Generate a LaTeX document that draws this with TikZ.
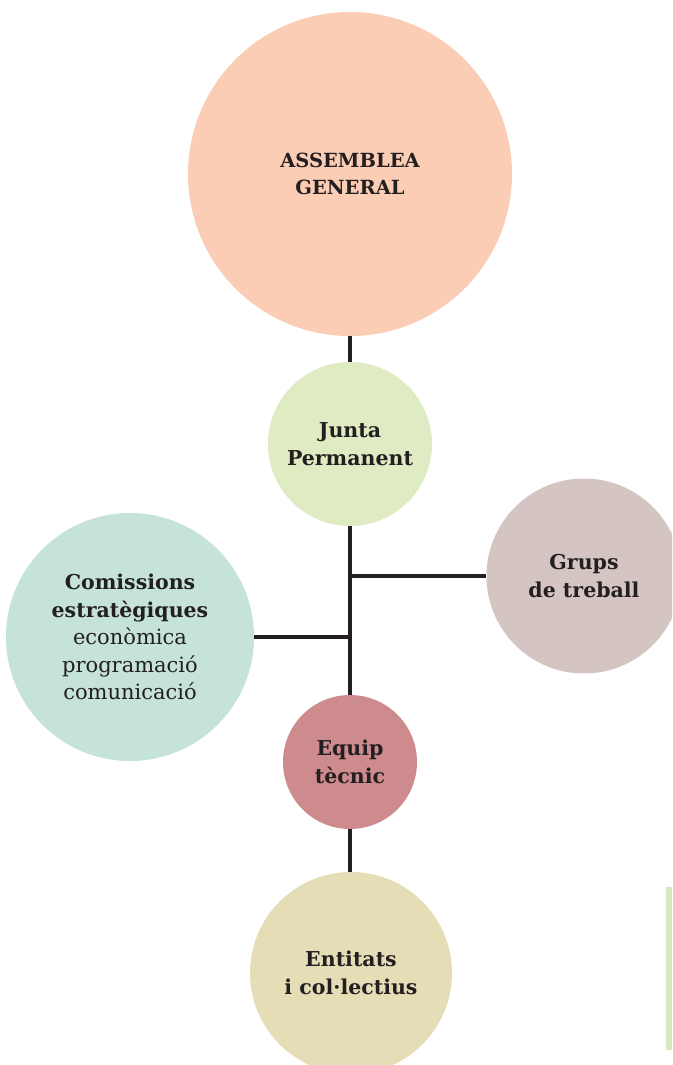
\documentclass[tikz,border=0pt]{standalone}
\usepackage{fontspec}
\setmainfont{DejaVu Serif}
\usepackage{tikz}
\definecolor{inkdark}{RGB}{35, 31, 32}
\definecolor{assemblypeach}{RGB}{251, 205, 181}
\definecolor{juntagreen}{RGB}{223, 235, 195}
\definecolor{groupmauve}{RGB}{212, 197, 195}
\definecolor{commissionmint}{RGB}{197, 227, 216}
\definecolor{teamrose}{RGB}{206, 139, 141}
\definecolor{entitysand}{RGB}{229, 221, 182}
\definecolor{tabgreen}{RGB}{216, 233, 193}
\usetikzlibrary{positioning}
\newcommand{\subline}[1]{{\fontsize{21}{27.5}\selectfont\mdseries #1}}

\begin{document}
\begin{tikzpicture}[
    x=1pt, y=-1pt,
    organ/.style={circle, inner sep=0pt, align=center, text=inkdark, font=\fontsize{20.5}{27.5}\selectfont\bfseries},
    link/.style={draw=inkdark, line width=3.4pt}
]
    \useasboundingbox (0, 0) rectangle (672, 1065);
    \clip (0, 0) rectangle (672, 1065);

    % General assembly
    \node[organ, fill=assemblypeach, minimum size=324pt, font=\fontsize{19.5}{27.5}\selectfont\bfseries] (asm) at (350, 174) {ASSEMBLEA\\GENERAL};

    % Permanent board
    \node[organ, fill=juntagreen, minimum size=164pt] (junta) at (350, 444) {Junta\\Permanent};

    % Working groups
    \node[organ, fill=groupmauve, minimum size=195pt] (grups) at (584, 576) {Grups\\de treball};

    % Strategic commissions
    \node[organ, fill=commissionmint, minimum size=248pt] (com) at (130, 637) {Comissions\\estratègiques\\\subline{econòmica}\\\subline{programació}\\\subline{comunicació}};

    % Technical team
    \node[organ, fill=teamrose, minimum size=134pt] (equip) at (350, 762) {Equip\\tècnic};

    % Entities
    \node[organ, fill=entitysand, minimum size=202pt] (ent) at (351, 973) {Entitats\\i col·lectius};

    % Side tab
    \node[rectangle, fill=tabgreen, inner sep=0pt, minimum width=6pt, minimum height=163pt] (tab) at (669, 968) {};

    % Links
    \coordinate (jgrups) at (junta.south |- grups.west);
    \coordinate (jcom) at (junta.south |- com.east);
    \draw[link] (asm.south) -- (junta.north);
    \draw[link] (junta.south) -- (equip.north);
    \draw[link] (grups.west) -- (jgrups);
    \draw[link] (com.east) -- (jcom);
    \draw[link] (equip.south) -- (equip.south |- ent.north);

\end{tikzpicture}
\end{document}
